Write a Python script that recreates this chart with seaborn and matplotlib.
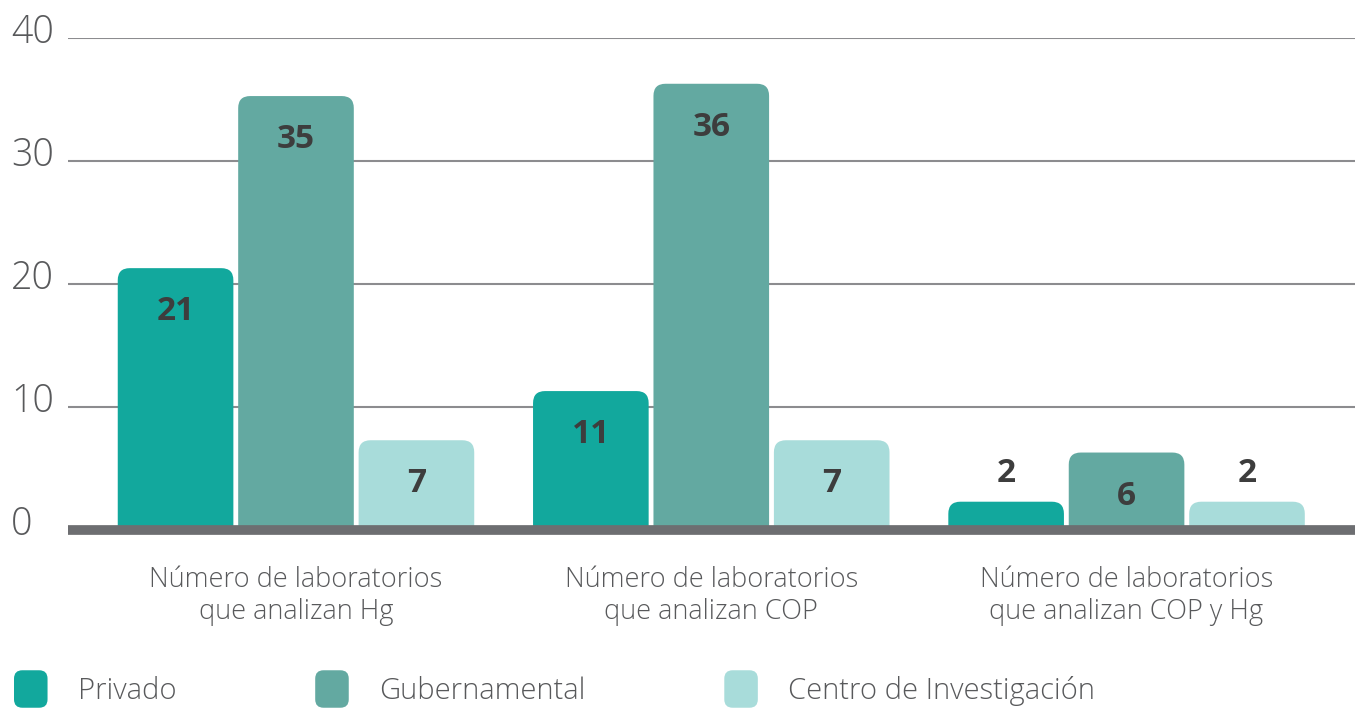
import matplotlib
matplotlib.use("Agg")
import matplotlib.pyplot as plt
import matplotlib.transforms as mtransforms
import pandas as pd
import seaborn as sns
from matplotlib.patches import FancyBboxPatch, Patch
from matplotlib.legend_handler import HandlerPatch

# Data
categories = ["Número de laboratorios\nque analizan Hg",
              "Número de laboratorios\nque analizan COP",
              "Número de laboratorios\nque analizan COP y Hg"]
sectors = ["Privado", "Gubernamental", "Centro de Investigación"]
privado = [21, 11, 2]
gubernamental = [35, 36, 6]
centro = [7, 7, 2]
y_ticks = [0, 10, 20, 30, 40]
colors = ["#12a89d", "#63a9a1", "#a8dcda"]

df = pd.DataFrame({
    "categoria": categories * 3,
    "sector": [s for s in sectors for _ in categories],
    "valor": privado + gubernamental + centro,
})

sns.set_theme(style="white")
plt.rcParams['font.family'] = ['Open Sans', 'DejaVu Sans']

fig = plt.figure(figsize=(13.6, 7.09), dpi=100)
ax = fig.add_axes([0.05, 0.2525, 0.9463, 0.6935])
sns.barplot(data=df, x="categoria", y="valor", hue="sector", hue_order=sectors,
            palette=colors, saturation=1, width=0.87, gap=0.04,
            legend=False, ax=ax)

ax.set_xlim(-0.549, 2.55)
ax.set_ylim(0, 40)

# rounded tops: swap the plain rectangles for rounded boxes
ax_w = ax.get_position().width * fig.get_figwidth() * fig.dpi
ax_h = ax.get_position().height * fig.get_figheight() * fig.dpi
aspect = (40 / ax_h) / (3.099 / ax_w)
radius = 12 * 3.099 / ax_w
bars = list(ax.patches)
for b in bars:
    x, w, h, fc = b.get_x(), b.get_width(), b.get_height(), b.get_facecolor()
    b.remove()
    rb = FancyBboxPatch((x, -3), w, h + 3.3,
                        boxstyle=f"round,pad=0,rounding_size={radius}",
                        mutation_aspect=aspect, fc=fc, ec="none", zorder=2)
    ax.add_patch(rb)
    off = -40 if h >= 5 else 32
    ax.annotate(f"{h:g}", (x + w / 2, h), xytext=(0, off), textcoords="offset pixels",
                ha="center", va="center", fontsize=24, fontweight="bold",
                color="#3d3d3d", zorder=3)

# grid and baseline
ax.set_yticks(y_ticks)
ax.grid(axis="y", color="#8c8c8f", lw=1.5)
ax.grid(axis="x", visible=False)
ax.set_axisbelow(True)
ax.axhline(0, color="#6d6e71", lw=7, clip_on=False, zorder=5, solid_capstyle="butt")
sns.despine(ax=ax, left=True, bottom=True)

ax.set_xlabel("")
ax.set_ylabel("")
ax.tick_params(axis="y", length=0, pad=41, labelsize=27, labelcolor="#58595b")
ax.tick_params(axis="x", length=0, pad=26, labelsize=19.5, labelcolor="#58595b")
shift = mtransforms.ScaledTranslation(0, 7 / 72, fig.dpi_scale_trans)
for lbl in ax.get_yticklabels():
    lbl.set_ha("left")
    lbl.set_fontweight("light")
    lbl.set_transform(lbl.get_transform() + shift)
for lbl in ax.get_xticklabels():
    lbl.set_fontweight("light")
    lbl.set_linespacing(1.2)


class RoundHandler(HandlerPatch):
    def create_artists(self, legend, orig_handle, xdescent, ydescent,
                       width, height, fontsize, trans):
        p = FancyBboxPatch((-xdescent, -ydescent), width, height,
                           boxstyle="round,pad=0,rounding_size=6",
                           fc=orig_handle.get_facecolor(), ec="none", transform=trans)
        return [p]


handles = [Patch(facecolor=c, label=s) for c, s in zip(colors, sectors)]
leg = fig.legend(handles=handles, loc="center left", bbox_to_anchor=(14 / 1360, 1 - 689 / 709),
                 ncol=3, frameon=False, fontsize=21, handlelength=1.15, handleheight=1.6,
                 handletextpad=1.05, columnspacing=4.75, borderpad=0, borderaxespad=0,
                 handler_map={Patch: RoundHandler()})
for t in leg.get_texts():
    t.set_color("#58595b")
    t.set_fontweight("light")

fig.savefig("out.png", dpi=100)
